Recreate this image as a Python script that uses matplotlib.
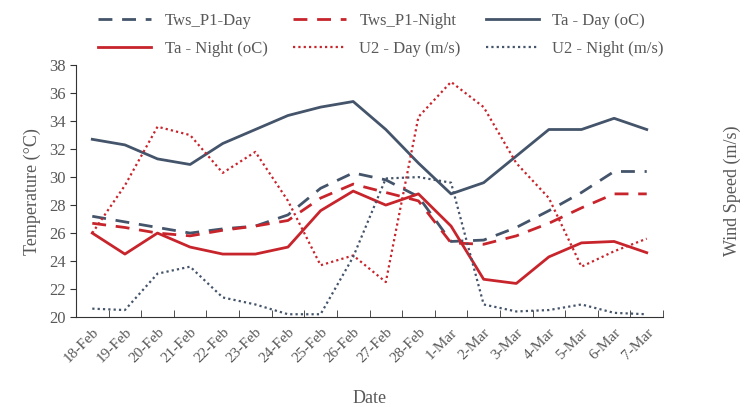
import matplotlib
matplotlib.use("Agg")
import matplotlib.pyplot as plt
from matplotlib.ticker import FixedLocator

plt.rcParams['font.family'] = ['Liberation Serif', 'DejaVu Serif']

dates = ["18-Feb", "19-Feb", "20-Feb", "21-Feb", "22-Feb", "23-Feb", "24-Feb", "25-Feb", "26-Feb",
         "27-Feb", "28-Feb", "1-Mar", "2-Mar", "3-Mar", "4-Mar", "5-Mar", "6-Mar", "7-Mar"]

tws_day = [27.2, 26.8, 26.4, 26.0, 26.3, 26.5, 27.3, 29.2, 30.3, 29.8, 28.6, 25.4, 25.5, 26.4, 27.6, 28.9, 30.4, 30.4]
tws_night = [26.7, 26.4, 26.0, 25.8, 26.2, 26.5, 26.9, 28.5, 29.5, 28.9, 28.3, 25.3, 25.2, 25.8, 26.7, 27.8, 28.8, 28.8]
ta_day = [32.7, 32.3, 31.3, 30.9, 32.4, 33.4, 34.4, 35.0, 35.4, 33.4, 31.0, 28.8, 29.6, 31.5, 33.4, 33.4, 34.2, 33.4]
ta_night = [26.0, 24.5, 26.0, 25.0, 24.5, 24.5, 25.0, 27.6, 29.0, 28.0, 28.8, 26.5, 22.7, 22.4, 24.3, 25.3, 25.4, 24.6]
u2_day = [26.0, 29.4, 33.6, 33.0, 30.3, 31.8, 28.3, 23.7, 24.4, 22.5, 34.3, 36.8, 35.0, 31.0, 28.5, 23.6, 24.7, 25.6]
u2_night = [20.6, 20.5, 23.1, 23.6, 21.4, 20.9, 20.2, 20.2, 24.3, 29.9, 30.0, 29.6, 20.9, 20.4, 20.5, 20.9, 20.3, 20.2]

NAVY = '#44546A'
RED = '#C8242C'
TXT = '#595959'

fig = plt.figure(figsize=(7.47, 4.07), dpi=100)
ax = fig.add_axes([0.1017, 0.221, 0.7859, 0.619])
ax2 = ax.twinx()

x = list(range(len(dates)))
l1, = ax.plot(x, tws_day, color=NAVY, lw=2, dashes=(5, 3.5), label='Tws_P1-Day')
l2, = ax.plot(x, tws_night, color=RED, lw=2, dashes=(5, 3.5), label='Tws_P1-Night')
l3, = ax.plot(x, ta_day, color=NAVY, lw=2, label='Ta - Day (oC)')
l4, = ax.plot(x, ta_night, color=RED, lw=2, label='Ta - Night (oC)')
l5, = ax2.plot(x, u2_day, color=RED, lw=1.6, linestyle=(0, (1, 1.4)), label='U2 - Day (m/s)')
l6, = ax2.plot(x, u2_night, color=NAVY, lw=1.6, linestyle=(0, (1, 1.4)), label='U2 - Night (m/s)')

for a in (ax, ax2):
    a.set_xlim(-0.5, len(dates) - 0.5)
    a.set_ylim(20, 38)
    a.spines['top'].set_visible(False)
    a.spines['right'].set_visible(False)

ax.set_yticks(range(20, 39, 2))
ax.tick_params(axis='y', labelsize=12, colors=TXT, length=4, direction='out', color='#333333')
ax.spines['left'].set_color('#333333')
ax.spines['bottom'].set_color('#333333')
ax2.spines['left'].set_visible(False)
ax2.spines['bottom'].set_visible(False)
ax2.set_yticks([])

ax.set_xticks(x)
ax.set_xticklabels(dates, rotation=45, ha='right', rotation_mode='anchor', fontsize=11, color=TXT)
ax.tick_params(axis='x', which='major', length=0, pad=6)
ax.xaxis.set_minor_locator(FixedLocator([i + 0.5 for i in range(len(dates))]))
ax.tick_params(axis='x', which='minor', length=5, direction='in', color='#333333')

ax.set_ylabel('Temperature (°C)', fontsize=13, color=TXT, labelpad=6)
ax2.set_ylabel('Wind Speed (m/s)', fontsize=13, color=TXT, labelpad=44)
ax.set_xlabel('Date', fontsize=13, color=TXT, labelpad=18)

handles = [l1, l4, l2, l5, l3, l6]
fig.legend(handles=handles, labels=[h.get_label() for h in handles], loc='upper center',
           bbox_to_anchor=(0.51, 0.985), ncol=3, frameon=False, fontsize=12, handlelength=3.2,
           columnspacing=1.5, labelcolor=TXT, handletextpad=0.8, borderaxespad=0.0,
           labelspacing=0.75)

fig.savefig('out.png', dpi=100)
